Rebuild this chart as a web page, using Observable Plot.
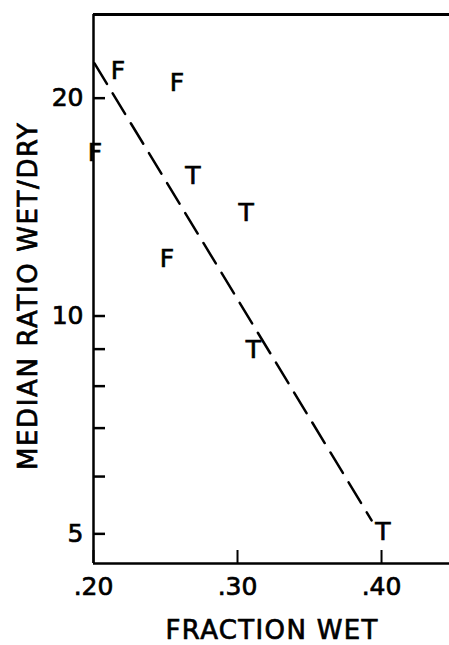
<!DOCTYPE html>
<html>
<head>
<meta charset="utf-8">
<script src="https://cdn.jsdelivr.net/npm/d3@7"></script>
<script src="https://cdn.jsdelivr.net/npm/@observablehq/plot@0.6"></script>
<style>
  html, body { margin: 0; padding: 0; background: white; }
  svg text { stroke: black; stroke-width: 0.7px; }
</style>
</head>
<body>
<div id="chart"></div>
<script>
// ---- data ----
const labels = ["F", "F", "F", "T", "T", "F", "T", "T"];
const fractionWet = [0.217, 0.258, 0.201, 0.269, 0.306, 0.251, 0.311, 0.401];
const medianRatio = [21.8, 21.0, 16.8, 15.6, 13.9, 12.0, 8.97, 5.03];

const lineX = [0.2007, 0.3931];
const lineY = [22.34, 5.22];

const xDomain = [0.20, 0.4472];
const yDomain = [4.55, 26.1];
const xTickValues = [0.20, 0.30, 0.40];
const yLabelValues = [5, 10, 20];
const yTickValues = [5, 6, 7, 8, 9, 10, 20];

const xTitle = "FRACTION WET";
const yTitle = "MEDIAN RATIO WET/DRY";

// ---- tables built from the arrays ----
const points = labels.map((l, i) => ({label: l, x: fractionWet[i], y: medianRatio[i]}));
const fitLine = lineX.map((x, i) => ({x, y: lineY[i]}));

const W = 449, H = 645;
const mL = 93, mR = 0, mT = 14, mB = 82;
const plotW = W - mL - mR, plotH = H - mT - mB;

const fmtX = d => d.toFixed(2).replace(/^0/, "");

const chart = Plot.plot({
  width: W,
  height: H,
  marginLeft: mL,
  marginRight: mR,
  marginTop: mT,
  marginBottom: mB,
  style: {fontFamily: "'DejaVu Sans', sans-serif", fontSize: "25px", color: "black", background: "white", overflow: "visible"},
  x: {domain: xDomain},
  y: {type: "log", domain: yDomain},
  marks: [
    Plot.axisX(xTickValues, {tickSize: 0, tickPadding: 14, tickFormat: fmtX, label: null}),
    Plot.axisY(yLabelValues, {tickSize: 0, tickPadding: 10, tickFormat: d => String(d), label: null}),
    // frame lines (left, bottom, top)
    Plot.ruleX([xDomain[0]], {stroke: "black", strokeWidth: 2.5}),
    Plot.ruleY([yDomain[0]], {stroke: "black", strokeWidth: 2.5}),
    Plot.ruleY([yDomain[1]], {stroke: "black", strokeWidth: 3}),
    // inward ticks
    Plot.tickY(yTickValues, {y: d => d, stroke: "black", strokeWidth: 2.5, insetRight: plotW - 12}),
    Plot.tickX(xTickValues, {x: d => d, stroke: "black", strokeWidth: 2, insetTop: plotH - 13}),
    // dashed fit line
    Plot.line(fitLine, {x: "x", y: "y", stroke: "black", strokeWidth: 2.5, strokeDasharray: "24,11"}),
    // letter symbols
    Plot.text(points, {x: "x", y: "y", text: "label", fontSize: 25, fill: "black"}),
    // axis titles
    Plot.text([xTitle], {text: d => d, frameAnchor: "bottom", textAnchor: "middle", lineAnchor: "middle", dy: 67, fontSize: 26, fill: "black"}),
    Plot.text([yTitle], {text: d => d, frameAnchor: "left", textAnchor: "middle", lineAnchor: "middle", dx: -65, dy: 7.5, rotate: -90, fontSize: 26, fill: "black"})
  ]
});

d3.select(chart).selectAll("text").each(function() {
  const t = this.textContent;
  if (t === xTitle) d3.select(this).attr("textLength", 212).attr("lengthAdjust", "spacing");
  if (t === yTitle) d3.select(this).attr("textLength", 347).attr("lengthAdjust", "spacing");
});

document.getElementById("chart").appendChild(chart);
</script>
</body>
</html>
